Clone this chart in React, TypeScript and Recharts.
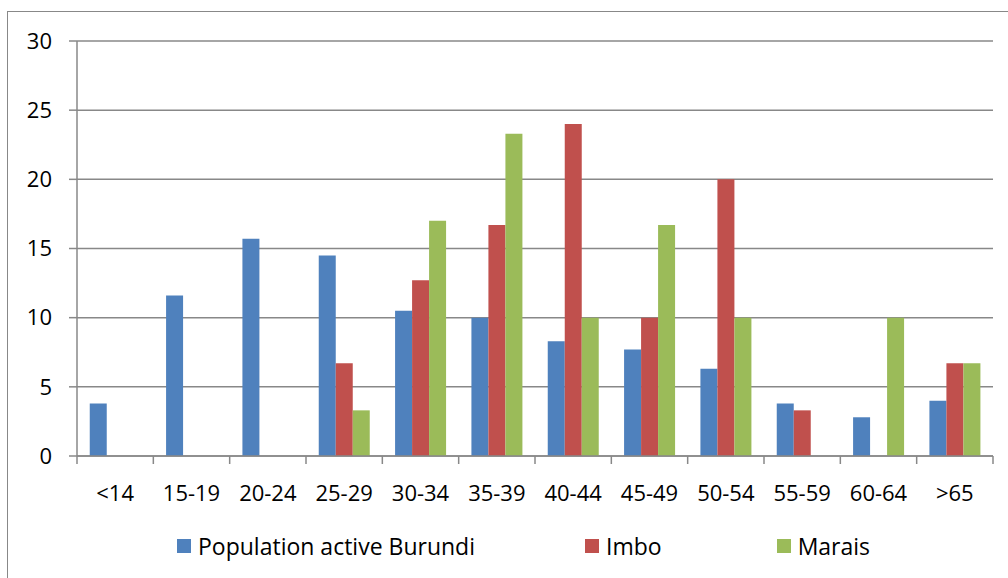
import React from 'react';
import { BarChart, Bar, XAxis, YAxis, CartesianGrid, Legend } from 'recharts';

const categories = ['<14', '15-19', '20-24', '25-29', '30-34', '35-39', '40-44', '45-49', '50-54', '55-59', '60-64', '>65'];
const burundi = [3.8, 11.6, 15.7, 14.5, 10.5, 10, 8.3, 7.7, 6.3, 3.8, 2.8, 4.0];
const imbo = [null, null, null, 6.7, 12.7, 16.7, 24, 10, 20, 3.3, null, 6.7];
const marais = [null, null, null, 3.3, 17, 23.3, 10, 16.7, 10, null, 10, 6.7];
const yTicks = [0, 5, 10, 15, 20, 25, 30];

const seriesNames = ['Population active Burundi', 'Imbo', 'Marais'];
const seriesColors = ['#4F81BD', '#C0504D', '#9BBB59'];

const chartData = categories.map((name, i) => ({
    name,
    [seriesNames[0]]: burundi[i],
    [seriesNames[1]]: imbo[i],
    [seriesNames[2]]: marais[i],
}));

const AXIS = '#888888';
const FONT = '"Open Sans", "Liberation Sans", sans-serif';
const TICK_SIZE = 8;
const TICK_MARGIN = 21;

// Excel puts the category ticks on the boundaries, not under the labels
const CategoryTick = (props: any) => {
    const { x, y, payload, index } = props;
    const half = payload?.offset ?? 38;
    const top = y - TICK_SIZE - TICK_MARGIN;
    return (
        <g>
            <line x1={x - half} x2={x - half} y1={top} y2={top + TICK_SIZE} stroke={AXIS} strokeWidth={1.5} />
            {index === categories.length - 1 && (
                <line x1={x + half} x2={x + half} y1={top} y2={top + TICK_SIZE} stroke={AXIS} strokeWidth={1.5} />
            )}
            <text x={x} y={y} dy="0.71em" textAnchor="middle" fontSize={22} fontFamily={FONT} fill="#000">
                {payload.value}
            </text>
        </g>
    );
};

const LegendContent = () => (
    <div style={{ display: 'flex', alignItems: 'center', paddingLeft: 177, gap: 0, fontFamily: FONT, fontSize: 23, lineHeight: '24px' }}>
        {seriesNames.map((s, i) => (
            <div key={s} style={{ display: 'flex', alignItems: 'center', marginRight: i === 0 ? 110 : 115 }}>
                <span style={{ width: 14, height: 14, background: seriesColors[i], display: 'inline-block', marginRight: 7 }} />
                <span style={{ color: '#000' }}>{s}</span>
            </div>
        ))}
    </div>
);

export default function App() {
    return (
        <div style={{ position: 'fixed', left: 0, top: 0, width: 1008, height: 578, overflow: 'hidden', background: '#fff' }}>
            <div style={{ position: 'absolute', left: 7, top: 11, width: 1020, height: 600, border: `1.5px solid ${AXIS}` }} />
            <div style={{ position: 'absolute', left: 0, top: 0 }}>
                <BarChart
                    width={1008}
                    height={578}
                    data={chartData}
                    margin={{ top: 41, right: 15, left: 0, bottom: 62 }}
                    barCategoryGap="16.7%"
                    barGap={0}
                >
                    <CartesianGrid horizontal vertical={false} stroke={AXIS} strokeWidth={1.5} />
                    <XAxis
                        dataKey="name"
                        height={60}
                        interval={0}
                        axisLine={{ stroke: AXIS, strokeWidth: 1.5 }}
                        tickLine={false}
                        tickSize={TICK_SIZE}
                        tickMargin={TICK_MARGIN}
                        tick={<CategoryTick />}
                    />
                    <YAxis
                        width={77}
                        domain={[0, 30]}
                        ticks={yTicks}
                        interval={0}
                        axisLine={{ stroke: AXIS, strokeWidth: 1.5 }}
                        tickLine={{ stroke: AXIS, strokeWidth: 1.5 }}
                        tickSize={8}
                        tickMargin={17}
                        tick={{ fontSize: 22, fill: '#000', fontFamily: FONT }}
                    />
                    <Legend
                        layout="horizontal"
                        verticalAlign="middle"
                        content={<LegendContent />}
                        wrapperStyle={{ top: 534, left: 0, width: 1008 }}
                    />
                    {seriesNames.map((s, i) => (
                        <Bar key={s} dataKey={s} fill={seriesColors[i]} isAnimationActive={false} />
                    ))}
                </BarChart>
            </div>
        </div>
    );
}
